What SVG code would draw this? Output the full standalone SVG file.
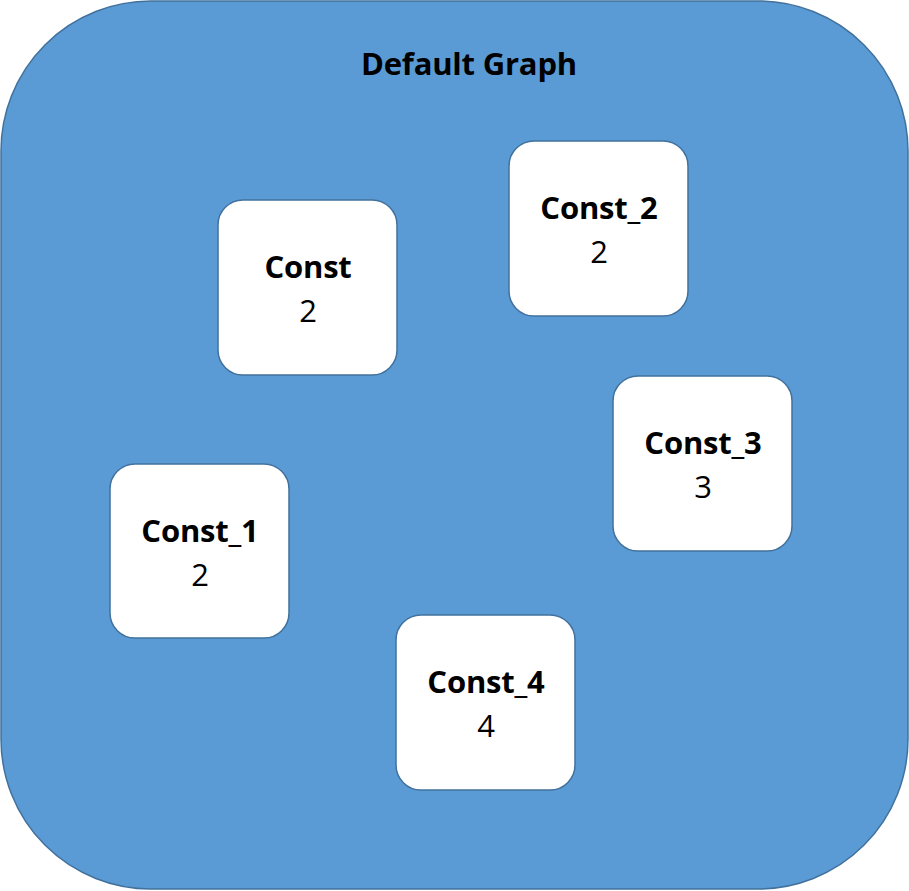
<svg xmlns="http://www.w3.org/2000/svg" width="909" height="891" viewBox="0 0 909 891">
<style>
.node rect{fill:#ffffff;stroke:#41719C;stroke-width:1.5}
.t{font-family:"Open Sans","Liberation Sans",sans-serif;font-size:31px;text-anchor:middle;fill:#000}
.b{font-weight:bold;letter-spacing:-0.2px}
</style>
<g id="graph">
<rect x="1" y="1" width="907" height="888" rx="150" ry="150" fill="#5B9BD5" stroke="#41719C" stroke-width="1.5"/>
<text class="t b" x="469" y="75">Default Graph</text>
</g>
<g id="connectors"></g>
<g id="Const" class="node"><rect x="218" y="200" width="179" height="175" rx="25"/><text class="t b" x="308" y="278">Const</text><text class="t" x="308" y="322">2</text></g>
<g id="Const_2" class="node"><rect x="509" y="141" width="179" height="175" rx="25"/><text class="t b" x="599" y="219">Const_2</text><text class="t" x="599" y="263">2</text></g>
<g id="Const_3" class="node"><rect x="613" y="376" width="179" height="175" rx="25"/><text class="t b" x="703" y="454">Const_3</text><text class="t" x="703" y="498">3</text></g>
<g id="Const_1" class="node"><rect x="110" y="464" width="179" height="174" rx="25"/><text class="t b" x="200" y="542">Const_1</text><text class="t" x="200" y="586">2</text></g>
<g id="Const_4" class="node"><rect x="396" y="615" width="179" height="175" rx="25"/><text class="t b" x="486" y="693">Const_4</text><text class="t" x="486" y="737">4</text></g>
</svg>
